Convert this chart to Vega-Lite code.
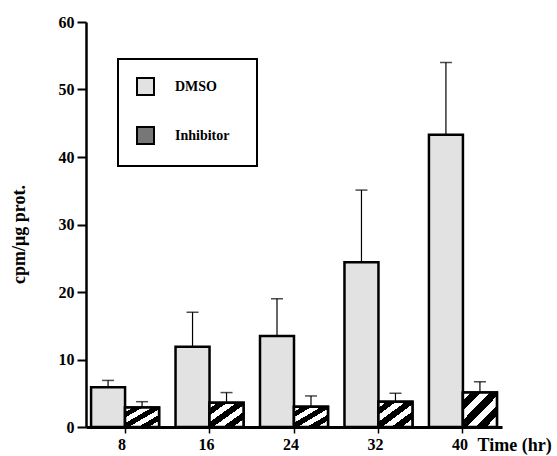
{
  "$schema": "https://vega.github.io/schema/vega-lite/v6.json",
  "width": 416,
  "height": 405,
  "autosize": "none",
  "padding": {"left": 86, "top": 22, "right": 55, "bottom": 29},
  "background": "white",
  "config": {"view": {"stroke": null}, "font": "Liberation Serif"},
  "data": {
    "values": [
      {"time": "8", "group": "DMSO", "value": 5.9, "high": 6.9},
      {"time": "8", "group": "Inhibitor", "value": 2.9, "high": 3.75},
      {"time": "16", "group": "DMSO", "value": 11.9, "high": 17.0},
      {"time": "16", "group": "Inhibitor", "value": 3.6, "high": 5.1},
      {"time": "24", "group": "DMSO", "value": 13.5, "high": 19.0},
      {"time": "24", "group": "Inhibitor", "value": 3.0, "high": 4.6},
      {"time": "32", "group": "DMSO", "value": 24.4, "high": 35.1},
      {"time": "32", "group": "Inhibitor", "value": 3.75, "high": 5.0},
      {"time": "40", "group": "DMSO", "value": 43.3, "high": 54.0},
      {"time": "40", "group": "Inhibitor", "value": 5.1, "high": 6.7}
    ]
  },
  "encoding": {
    "x": {
      "field": "time",
      "type": "nominal",
      "sort": ["8", "16", "24", "32", "40"],
      "scale": {"paddingInner": 0.195, "paddingOuter": 0.06},
      "axis": {
        "title": "Time (hr)",
        "labelAngle": 0,
        "labelFont": "Liberation Serif",
        "labelFontWeight": "bold",
        "labelFontSize": 16,
        "labelColor": "black",
        "labelPadding": 3,
        "labelOffset": -3,
        "domainColor": "black",
        "domainWidth": 3,
        "tickColor": "black",
        "tickSize": 6,
        "tickWidth": 1.5,
        "titleFont": "Liberation Serif",
        "titleFontWeight": "bold",
        "titleFontSize": 18,
        "titleColor": "black",
        "titleX": 391,
        "titleY": 23,
        "titleAlign": "left",
        "titleBaseline": "alphabetic"
      }
    },
    "xOffset": {
      "field": "group",
      "type": "nominal",
      "sort": ["DMSO", "Inhibitor"],
      "scale": {"paddingInner": 0, "paddingOuter": 0}
    }
  },
  "layer": [
    {
      "mark": {"type": "bar", "stroke": "black", "strokeWidth": 2.5},
      "encoding": {
        "y": {
          "field": "value",
          "type": "quantitative",
          "scale": {"domain": [0, 60]},
          "title": "cpm/μg prot.",
          "axis": {
            "values": [0, 10, 20, 30, 40, 50, 60],
            "grid": false,
            "domainColor": "black",
            "domainWidth": 2.5,
            "tickColor": "black",
            "tickWidth": 2,
            "tickSize": 9,
            "labelPadding": 3,
            "labelFont": "Liberation Serif",
            "labelFontWeight": "bold",
            "labelFontSize": 16,
            "labelColor": "black",
            "titleFont": "Liberation Serif",
            "titleFontSize": 18,
            "titleFontWeight": "bold",
            "titleColor": "black",
            "titleX": -67,
            "titleY": 212,
            "titleAngle": -90,
            "titleBaseline": "middle",
            "titleAlign": "center"
          }
        },
        "fill": {
          "field": "group",
          "type": "nominal",
          "scale": {"domain": ["DMSO", "Inhibitor"], "range": ["#e2e2e2", "#777777"]},
          "legend": {
            "title": "\u00a0\u00a0\u00a0\u00a0\u00a0",
            "titleOrient": "right",
            "titlePadding": 10,
            "titleFontSize": 14,
            "orient": "none",
            "legendX": 32,
            "legendY": 37,
            "direction": "vertical",
            "padding": 18,
            "strokeColor": "black",
            "symbolType": "square",
            "symbolSize": 289,
            "symbolStrokeColor": "black",
            "symbolStrokeWidth": 2,
            "labelFont": "Liberation Serif",
            "labelFontWeight": "bold",
            "labelFontSize": 14,
            "labelColor": "black",
            "labelOffset": 20,
            "rowPadding": 24,
            "encode": {
              "legend": {"update": {"strokeWidth": {"value": 2}}},
              "symbols": {
                "update": {
                  "stroke": {"value": "black"},
                  "strokeWidth": {"value": 2}
                }
              }
            }
          }
        }
      }
    },
    {
      "transform": [{"filter": "datum.group === 'Inhibitor'"}],
      "mark": {
        "type": "bar",
        "stroke": "black",
        "strokeWidth": 2.5,
        "fill": {
          "gradient": "linear",
          "x1": 0, "y1": 0, "x2": 1, "y2": 1,
          "stops": [
            {"offset": 0, "color": "white"},
            {"offset": 0.12, "color": "white"},
            {"offset": 0.12, "color": "black"},
            {"offset": 0.26, "color": "black"},
            {"offset": 0.26, "color": "white"},
            {"offset": 0.4, "color": "white"},
            {"offset": 0.4, "color": "black"},
            {"offset": 0.55, "color": "black"},
            {"offset": 0.55, "color": "white"},
            {"offset": 0.69, "color": "white"},
            {"offset": 0.69, "color": "black"},
            {"offset": 0.84, "color": "black"},
            {"offset": 0.84, "color": "white"},
            {"offset": 1, "color": "white"}
          ]
        }
      },
      "encoding": {
        "y": {"field": "value", "type": "quantitative", "title": "cpm/μg prot."}
      }
    },
    {
      "mark": {"type": "rule", "color": "black", "strokeWidth": 1.2},
      "encoding": {
        "y": {"field": "value", "type": "quantitative", "title": "cpm/μg prot."},
        "y2": {"field": "high"}
      }
    },
    {
      "mark": {"type": "tick", "color": "black", "thickness": 1.5, "size": 12, "orient": "horizontal"},
      "encoding": {
        "y": {"field": "high", "type": "quantitative", "title": "cpm/μg prot."}
      }
    }
  ]
}
